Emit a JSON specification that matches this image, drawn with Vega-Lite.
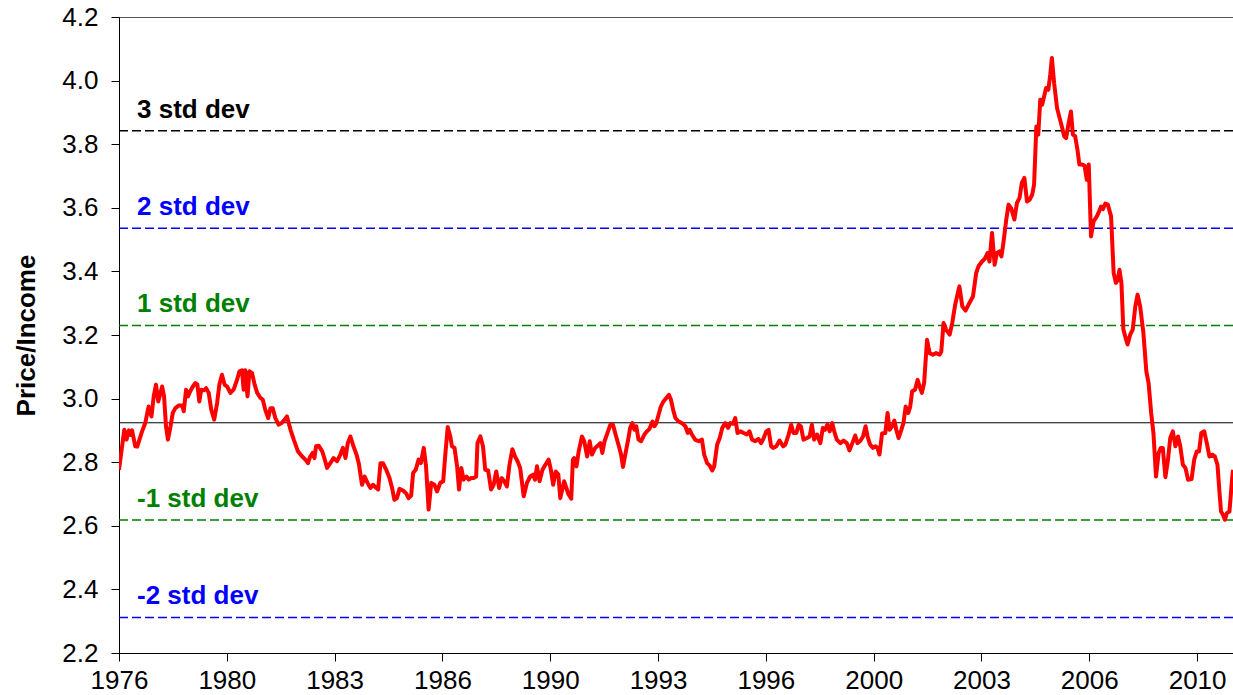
{
  "$schema": "https://vega.github.io/schema/vega-lite/v6.json",
  "width": 1114,
  "height": 636,
  "autosize": {"type": "none"},
  "padding": {"left": 119, "top": 17, "right": 0, "bottom": 42},
  "background": "white",
  "config": {
    "view": {"stroke": "#555555", "strokeWidth": 1},
    "font": "Liberation Sans",
    "axis": {
      "labelFont": "Liberation Sans", "labelFontSize": 26, "labelColor": "#000000",
      "domainColor": "#000000", "domainWidth": 1, "tickColor": "#000000", "tickSize": 8, "tickWidth": 1,
      "grid": false, "labelFlush": false, "labelBound": false, "labelOverlap": false,
      "titleFont": "Liberation Sans", "titleFontSize": 26, "titleFontWeight": "bold", "titleColor": "#000000"
    }
  },
  "datasets": {
    "levels": [
      {"level": "3 std dev", "group": "3", "value": 3.842},
      {"level": "2 std dev", "group": "2", "value": 3.536},
      {"level": "1 std dev", "group": "1", "value": 3.230},
      {"level": "mean", "group": "0", "value": 2.924},
      {"level": "-1 std dev", "group": "1", "value": 2.618},
      {"level": "-2 std dev", "group": "2", "value": 2.312}
    ],
    "series": [
      {"year": 1976.667, "ratio": 2.776}, {"year": 1976.83, "ratio": 2.902}, {"year": 1976.90, "ratio": 2.871}, {"year": 1976.97, "ratio": 2.900},
      {"year": 1977.02, "ratio": 2.886}, {"year": 1977.07, "ratio": 2.900}, {"year": 1977.17, "ratio": 2.850}, {"year": 1977.23, "ratio": 2.849},
      {"year": 1977.38, "ratio": 2.897}, {"year": 1977.48, "ratio": 2.924}, {"year": 1977.58, "ratio": 2.975}, {"year": 1977.67, "ratio": 2.944},
      {"year": 1977.74, "ratio": 3.007}, {"year": 1977.81, "ratio": 3.044}, {"year": 1977.88, "ratio": 2.991}, {"year": 1977.95, "ratio": 3.018},
      {"year": 1978.00, "ratio": 3.038}, {"year": 1978.06, "ratio": 3.007}, {"year": 1978.12, "ratio": 2.913}, {"year": 1978.18, "ratio": 2.871},
      {"year": 1978.26, "ratio": 2.913}, {"year": 1978.33, "ratio": 2.955}, {"year": 1978.41, "ratio": 2.970}, {"year": 1978.51, "ratio": 2.978},
      {"year": 1978.62, "ratio": 2.978}, {"year": 1978.67, "ratio": 2.960}, {"year": 1978.74, "ratio": 3.028}, {"year": 1978.80, "ratio": 3.007},
      {"year": 1978.87, "ratio": 3.023}, {"year": 1978.95, "ratio": 3.038}, {"year": 1979.03, "ratio": 3.049}, {"year": 1979.09, "ratio": 3.044},
      {"year": 1979.15, "ratio": 2.991}, {"year": 1979.21, "ratio": 3.028}, {"year": 1979.29, "ratio": 3.026}, {"year": 1979.36, "ratio": 3.033},
      {"year": 1979.44, "ratio": 3.018}, {"year": 1979.52, "ratio": 2.965}, {"year": 1979.61, "ratio": 2.934}, {"year": 1979.70, "ratio": 2.986},
      {"year": 1979.77, "ratio": 3.044}, {"year": 1979.85, "ratio": 3.075}, {"year": 1979.93, "ratio": 3.044}, {"year": 1980.01, "ratio": 3.038},
      {"year": 1980.11, "ratio": 3.018}, {"year": 1980.21, "ratio": 3.028}, {"year": 1980.32, "ratio": 3.060}, {"year": 1980.39, "ratio": 3.086},
      {"year": 1980.47, "ratio": 3.089}, {"year": 1980.52, "ratio": 3.028}, {"year": 1980.57, "ratio": 3.089}, {"year": 1980.64, "ratio": 3.007},
      {"year": 1980.70, "ratio": 3.086}, {"year": 1980.78, "ratio": 3.080}, {"year": 1980.86, "ratio": 3.044}, {"year": 1980.94, "ratio": 3.018},
      {"year": 1981.04, "ratio": 3.002}, {"year": 1981.11, "ratio": 2.997}, {"year": 1981.19, "ratio": 2.965}, {"year": 1981.28, "ratio": 2.939},
      {"year": 1981.35, "ratio": 2.970}, {"year": 1981.42, "ratio": 2.970}, {"year": 1981.50, "ratio": 2.939}, {"year": 1981.60, "ratio": 2.918},
      {"year": 1981.69, "ratio": 2.923}, {"year": 1981.79, "ratio": 2.934}, {"year": 1981.86, "ratio": 2.944}, {"year": 1981.97, "ratio": 2.902},
      {"year": 1982.07, "ratio": 2.871}, {"year": 1982.20, "ratio": 2.834}, {"year": 1982.33, "ratio": 2.818}, {"year": 1982.43, "ratio": 2.808},
      {"year": 1982.51, "ratio": 2.797}, {"year": 1982.58, "ratio": 2.818}, {"year": 1982.65, "ratio": 2.829}, {"year": 1982.71, "ratio": 2.813},
      {"year": 1982.76, "ratio": 2.850}, {"year": 1982.84, "ratio": 2.852}, {"year": 1982.95, "ratio": 2.834}, {"year": 1983.03, "ratio": 2.808},
      {"year": 1983.10, "ratio": 2.782}, {"year": 1983.20, "ratio": 2.797}, {"year": 1983.30, "ratio": 2.813}, {"year": 1983.41, "ratio": 2.803},
      {"year": 1983.51, "ratio": 2.824}, {"year": 1983.59, "ratio": 2.845}, {"year": 1983.67, "ratio": 2.813}, {"year": 1983.74, "ratio": 2.860},
      {"year": 1983.82, "ratio": 2.881}, {"year": 1983.90, "ratio": 2.855}, {"year": 1984.01, "ratio": 2.824}, {"year": 1984.08, "ratio": 2.797},
      {"year": 1984.18, "ratio": 2.729}, {"year": 1984.26, "ratio": 2.755}, {"year": 1984.35, "ratio": 2.735}, {"year": 1984.44, "ratio": 2.719},
      {"year": 1984.52, "ratio": 2.729}, {"year": 1984.59, "ratio": 2.722}, {"year": 1984.68, "ratio": 2.714}, {"year": 1984.75, "ratio": 2.797},
      {"year": 1984.83, "ratio": 2.797}, {"year": 1984.93, "ratio": 2.776}, {"year": 1985.03, "ratio": 2.750}, {"year": 1985.11, "ratio": 2.719},
      {"year": 1985.18, "ratio": 2.682}, {"year": 1985.26, "ratio": 2.687}, {"year": 1985.34, "ratio": 2.716}, {"year": 1985.45, "ratio": 2.711},
      {"year": 1985.55, "ratio": 2.701}, {"year": 1985.62, "ratio": 2.687}, {"year": 1985.70, "ratio": 2.695}, {"year": 1985.76, "ratio": 2.766},
      {"year": 1985.84, "ratio": 2.776}, {"year": 1985.93, "ratio": 2.808}, {"year": 1986.00, "ratio": 2.797}, {"year": 1986.09, "ratio": 2.845},
      {"year": 1986.16, "ratio": 2.787}, {"year": 1986.24, "ratio": 2.651}, {"year": 1986.32, "ratio": 2.735}, {"year": 1986.42, "ratio": 2.729},
      {"year": 1986.50, "ratio": 2.708}, {"year": 1986.60, "ratio": 2.735}, {"year": 1986.69, "ratio": 2.740}, {"year": 1986.76, "ratio": 2.829},
      {"year": 1986.83, "ratio": 2.911}, {"year": 1986.91, "ratio": 2.881}, {"year": 1986.96, "ratio": 2.850}, {"year": 1987.04, "ratio": 2.845},
      {"year": 1987.12, "ratio": 2.787}, {"year": 1987.18, "ratio": 2.714}, {"year": 1987.25, "ratio": 2.782}, {"year": 1987.32, "ratio": 2.745},
      {"year": 1987.41, "ratio": 2.755}, {"year": 1987.48, "ratio": 2.745}, {"year": 1987.55, "ratio": 2.750}, {"year": 1987.63, "ratio": 2.750},
      {"year": 1987.71, "ratio": 2.755}, {"year": 1987.75, "ratio": 2.860}, {"year": 1987.84, "ratio": 2.881}, {"year": 1987.92, "ratio": 2.850},
      {"year": 1987.99, "ratio": 2.776}, {"year": 1988.08, "ratio": 2.774}, {"year": 1988.17, "ratio": 2.714}, {"year": 1988.25, "ratio": 2.729},
      {"year": 1988.33, "ratio": 2.771}, {"year": 1988.42, "ratio": 2.719}, {"year": 1988.50, "ratio": 2.750}, {"year": 1988.58, "ratio": 2.740},
      {"year": 1988.66, "ratio": 2.724}, {"year": 1988.74, "ratio": 2.792}, {"year": 1988.83, "ratio": 2.841}, {"year": 1988.91, "ratio": 2.818},
      {"year": 1988.99, "ratio": 2.803}, {"year": 1989.07, "ratio": 2.782}, {"year": 1989.18, "ratio": 2.693}, {"year": 1989.28, "ratio": 2.735},
      {"year": 1989.38, "ratio": 2.755}, {"year": 1989.47, "ratio": 2.761}, {"year": 1989.53, "ratio": 2.745}, {"year": 1989.59, "ratio": 2.787},
      {"year": 1989.67, "ratio": 2.740}, {"year": 1989.76, "ratio": 2.776}, {"year": 1989.85, "ratio": 2.792}, {"year": 1989.95, "ratio": 2.808},
      {"year": 1990.02, "ratio": 2.776}, {"year": 1990.09, "ratio": 2.729}, {"year": 1990.17, "ratio": 2.771}, {"year": 1990.25, "ratio": 2.761},
      {"year": 1990.31, "ratio": 2.687}, {"year": 1990.43, "ratio": 2.740}, {"year": 1990.56, "ratio": 2.700}, {"year": 1990.65, "ratio": 2.685},
      {"year": 1990.70, "ratio": 2.808}, {"year": 1990.74, "ratio": 2.813}, {"year": 1990.81, "ratio": 2.787}, {"year": 1990.88, "ratio": 2.834},
      {"year": 1990.98, "ratio": 2.881}, {"year": 1991.05, "ratio": 2.866}, {"year": 1991.14, "ratio": 2.818}, {"year": 1991.22, "ratio": 2.866},
      {"year": 1991.29, "ratio": 2.824}, {"year": 1991.39, "ratio": 2.845}, {"year": 1991.50, "ratio": 2.855}, {"year": 1991.55, "ratio": 2.860},
      {"year": 1991.61, "ratio": 2.829}, {"year": 1991.68, "ratio": 2.866}, {"year": 1991.77, "ratio": 2.892}, {"year": 1991.86, "ratio": 2.918},
      {"year": 1991.94, "ratio": 2.918}, {"year": 1992.02, "ratio": 2.887}, {"year": 1992.11, "ratio": 2.855}, {"year": 1992.19, "ratio": 2.824},
      {"year": 1992.25, "ratio": 2.785}, {"year": 1992.32, "ratio": 2.824}, {"year": 1992.40, "ratio": 2.866}, {"year": 1992.47, "ratio": 2.908},
      {"year": 1992.54, "ratio": 2.923}, {"year": 1992.60, "ratio": 2.902}, {"year": 1992.66, "ratio": 2.913}, {"year": 1992.73, "ratio": 2.871},
      {"year": 1992.81, "ratio": 2.866}, {"year": 1992.91, "ratio": 2.887}, {"year": 1992.99, "ratio": 2.897}, {"year": 1993.07, "ratio": 2.905},
      {"year": 1993.16, "ratio": 2.928}, {"year": 1993.22, "ratio": 2.913}, {"year": 1993.28, "ratio": 2.923}, {"year": 1993.35, "ratio": 2.949},
      {"year": 1993.42, "ratio": 2.975}, {"year": 1993.50, "ratio": 2.991}, {"year": 1993.59, "ratio": 3.002}, {"year": 1993.67, "ratio": 3.012},
      {"year": 1993.73, "ratio": 2.997}, {"year": 1993.80, "ratio": 2.965}, {"year": 1993.87, "ratio": 2.939}, {"year": 1993.97, "ratio": 2.928},
      {"year": 1994.07, "ratio": 2.923}, {"year": 1994.18, "ratio": 2.913}, {"year": 1994.25, "ratio": 2.892}, {"year": 1994.31, "ratio": 2.902},
      {"year": 1994.38, "ratio": 2.887}, {"year": 1994.48, "ratio": 2.871}, {"year": 1994.59, "ratio": 2.866}, {"year": 1994.69, "ratio": 2.871},
      {"year": 1994.76, "ratio": 2.824}, {"year": 1994.85, "ratio": 2.797}, {"year": 1994.93, "ratio": 2.789}, {"year": 1995.01, "ratio": 2.774},
      {"year": 1995.07, "ratio": 2.787}, {"year": 1995.16, "ratio": 2.855}, {"year": 1995.24, "ratio": 2.876}, {"year": 1995.32, "ratio": 2.908},
      {"year": 1995.41, "ratio": 2.923}, {"year": 1995.50, "ratio": 2.908}, {"year": 1995.57, "ratio": 2.923}, {"year": 1995.65, "ratio": 2.921},
      {"year": 1995.72, "ratio": 2.939}, {"year": 1995.79, "ratio": 2.892}, {"year": 1995.88, "ratio": 2.897}, {"year": 1995.98, "ratio": 2.892},
      {"year": 1996.08, "ratio": 2.887}, {"year": 1996.16, "ratio": 2.897}, {"year": 1996.24, "ratio": 2.871}, {"year": 1996.34, "ratio": 2.866},
      {"year": 1996.44, "ratio": 2.873}, {"year": 1996.52, "ratio": 2.860}, {"year": 1996.60, "ratio": 2.876}, {"year": 1996.68, "ratio": 2.897},
      {"year": 1996.75, "ratio": 2.902}, {"year": 1996.83, "ratio": 2.850}, {"year": 1996.89, "ratio": 2.845}, {"year": 1996.99, "ratio": 2.850},
      {"year": 1997.09, "ratio": 2.868}, {"year": 1997.20, "ratio": 2.850}, {"year": 1997.27, "ratio": 2.855}, {"year": 1997.37, "ratio": 2.887},
      {"year": 1997.45, "ratio": 2.918}, {"year": 1997.52, "ratio": 2.892}, {"year": 1997.61, "ratio": 2.892}, {"year": 1997.68, "ratio": 2.918},
      {"year": 1997.75, "ratio": 2.913}, {"year": 1997.83, "ratio": 2.871}, {"year": 1997.94, "ratio": 2.876}, {"year": 1998.02, "ratio": 2.881},
      {"year": 1998.09, "ratio": 2.918}, {"year": 1998.16, "ratio": 2.871}, {"year": 1998.25, "ratio": 2.887}, {"year": 1998.35, "ratio": 2.860},
      {"year": 1998.43, "ratio": 2.908}, {"year": 1998.50, "ratio": 2.902}, {"year": 1998.57, "ratio": 2.918}, {"year": 1998.64, "ratio": 2.897},
      {"year": 1998.72, "ratio": 2.923}, {"year": 1998.78, "ratio": 2.897}, {"year": 1998.86, "ratio": 2.871}, {"year": 1998.97, "ratio": 2.860},
      {"year": 1999.07, "ratio": 2.868}, {"year": 1999.17, "ratio": 2.860}, {"year": 1999.25, "ratio": 2.837}, {"year": 1999.34, "ratio": 2.860},
      {"year": 1999.43, "ratio": 2.884}, {"year": 1999.50, "ratio": 2.860}, {"year": 1999.58, "ratio": 2.866}, {"year": 1999.67, "ratio": 2.881},
      {"year": 1999.75, "ratio": 2.913}, {"year": 1999.81, "ratio": 2.881}, {"year": 1999.89, "ratio": 2.855}, {"year": 1999.98, "ratio": 2.845},
      {"year": 2000.06, "ratio": 2.850}, {"year": 2000.12, "ratio": 2.845}, {"year": 2000.18, "ratio": 2.824}, {"year": 2000.26, "ratio": 2.890},
      {"year": 2000.36, "ratio": 2.892}, {"year": 2000.43, "ratio": 2.955}, {"year": 2000.49, "ratio": 2.902}, {"year": 2000.57, "ratio": 2.913},
      {"year": 2000.64, "ratio": 2.931}, {"year": 2000.70, "ratio": 2.902}, {"year": 2000.77, "ratio": 2.876}, {"year": 2000.85, "ratio": 2.900},
      {"year": 2000.92, "ratio": 2.923}, {"year": 2000.99, "ratio": 2.975}, {"year": 2001.07, "ratio": 2.955}, {"year": 2001.13, "ratio": 2.975},
      {"year": 2001.19, "ratio": 3.023}, {"year": 2001.28, "ratio": 3.028}, {"year": 2001.36, "ratio": 3.059}, {"year": 2001.42, "ratio": 3.038},
      {"year": 2001.49, "ratio": 3.018}, {"year": 2001.56, "ratio": 3.049}, {"year": 2001.65, "ratio": 3.185}, {"year": 2001.73, "ratio": 3.143},
      {"year": 2001.83, "ratio": 3.138}, {"year": 2001.93, "ratio": 3.143}, {"year": 2002.04, "ratio": 3.138}, {"year": 2002.09, "ratio": 3.148},
      {"year": 2002.16, "ratio": 3.238}, {"year": 2002.24, "ratio": 3.217}, {"year": 2002.35, "ratio": 3.201}, {"year": 2002.43, "ratio": 3.238},
      {"year": 2002.52, "ratio": 3.295}, {"year": 2002.59, "ratio": 3.327}, {"year": 2002.65, "ratio": 3.353}, {"year": 2002.74, "ratio": 3.290},
      {"year": 2002.84, "ratio": 3.277}, {"year": 2002.93, "ratio": 3.295}, {"year": 2003.07, "ratio": 3.321}, {"year": 2003.17, "ratio": 3.395},
      {"year": 2003.24, "ratio": 3.416}, {"year": 2003.35, "ratio": 3.431}, {"year": 2003.45, "ratio": 3.442}, {"year": 2003.52, "ratio": 3.458},
      {"year": 2003.58, "ratio": 3.431}, {"year": 2003.66, "ratio": 3.521}, {"year": 2003.74, "ratio": 3.421}, {"year": 2003.81, "ratio": 3.458},
      {"year": 2003.89, "ratio": 3.463}, {"year": 2003.95, "ratio": 3.447}, {"year": 2004.01, "ratio": 3.489}, {"year": 2004.10, "ratio": 3.563},
      {"year": 2004.17, "ratio": 3.610}, {"year": 2004.25, "ratio": 3.599}, {"year": 2004.35, "ratio": 3.563}, {"year": 2004.43, "ratio": 3.615},
      {"year": 2004.51, "ratio": 3.631}, {"year": 2004.58, "ratio": 3.678}, {"year": 2004.66, "ratio": 3.694}, {"year": 2004.74, "ratio": 3.620},
      {"year": 2004.82, "ratio": 3.625}, {"year": 2004.90, "ratio": 3.641}, {"year": 2004.96, "ratio": 3.673}, {"year": 2005.03, "ratio": 3.856},
      {"year": 2005.09, "ratio": 3.830}, {"year": 2005.15, "ratio": 3.940}, {"year": 2005.21, "ratio": 3.924}, {"year": 2005.27, "ratio": 3.950},
      {"year": 2005.33, "ratio": 3.977}, {"year": 2005.40, "ratio": 3.971}, {"year": 2005.46, "ratio": 4.019}, {"year": 2005.51, "ratio": 4.071},
      {"year": 2005.58, "ratio": 3.992}, {"year": 2005.67, "ratio": 3.914}, {"year": 2005.75, "ratio": 3.882}, {"year": 2005.83, "ratio": 3.851},
      {"year": 2005.89, "ratio": 3.825}, {"year": 2005.95, "ratio": 3.819}, {"year": 2006.01, "ratio": 3.856}, {"year": 2006.10, "ratio": 3.903},
      {"year": 2006.16, "ratio": 3.830}, {"year": 2006.23, "ratio": 3.825}, {"year": 2006.30, "ratio": 3.783}, {"year": 2006.36, "ratio": 3.736},
      {"year": 2006.45, "ratio": 3.736}, {"year": 2006.52, "ratio": 3.732}, {"year": 2006.59, "ratio": 3.688}, {"year": 2006.65, "ratio": 3.736},
      {"year": 2006.72, "ratio": 3.510}, {"year": 2006.80, "ratio": 3.557}, {"year": 2006.90, "ratio": 3.573}, {"year": 2006.95, "ratio": 3.584},
      {"year": 2007.03, "ratio": 3.604}, {"year": 2007.09, "ratio": 3.596}, {"year": 2007.16, "ratio": 3.613}, {"year": 2007.24, "ratio": 3.610},
      {"year": 2007.34, "ratio": 3.573}, {"year": 2007.42, "ratio": 3.395}, {"year": 2007.49, "ratio": 3.364}, {"year": 2007.55, "ratio": 3.374},
      {"year": 2007.60, "ratio": 3.405}, {"year": 2007.66, "ratio": 3.364}, {"year": 2007.72, "ratio": 3.217}, {"year": 2007.79, "ratio": 3.191},
      {"year": 2007.85, "ratio": 3.170}, {"year": 2007.93, "ratio": 3.201}, {"year": 2008.01, "ratio": 3.217}, {"year": 2008.09, "ratio": 3.290},
      {"year": 2008.16, "ratio": 3.327}, {"year": 2008.24, "ratio": 3.290}, {"year": 2008.34, "ratio": 3.206}, {"year": 2008.43, "ratio": 3.086},
      {"year": 2008.50, "ratio": 3.049}, {"year": 2008.58, "ratio": 2.955}, {"year": 2008.65, "ratio": 2.892}, {"year": 2008.73, "ratio": 2.755},
      {"year": 2008.81, "ratio": 2.829}, {"year": 2008.88, "ratio": 2.845}, {"year": 2008.94, "ratio": 2.845}, {"year": 2009.02, "ratio": 2.753},
      {"year": 2009.10, "ratio": 2.808}, {"year": 2009.17, "ratio": 2.876}, {"year": 2009.25, "ratio": 2.897}, {"year": 2009.33, "ratio": 2.850},
      {"year": 2009.41, "ratio": 2.881}, {"year": 2009.48, "ratio": 2.850}, {"year": 2009.56, "ratio": 2.792}, {"year": 2009.64, "ratio": 2.782},
      {"year": 2009.72, "ratio": 2.745}, {"year": 2009.83, "ratio": 2.747}, {"year": 2009.91, "ratio": 2.808}, {"year": 2009.99, "ratio": 2.834},
      {"year": 2010.06, "ratio": 2.834}, {"year": 2010.13, "ratio": 2.892}, {"year": 2010.22, "ratio": 2.897}, {"year": 2010.30, "ratio": 2.860},
      {"year": 2010.38, "ratio": 2.818}, {"year": 2010.47, "ratio": 2.824}, {"year": 2010.55, "ratio": 2.818}, {"year": 2010.63, "ratio": 2.792},
      {"year": 2010.69, "ratio": 2.708}, {"year": 2010.74, "ratio": 2.645}, {"year": 2010.80, "ratio": 2.635}, {"year": 2010.86, "ratio": 2.619},
      {"year": 2010.92, "ratio": 2.640}, {"year": 2011.00, "ratio": 2.645}, {"year": 2011.08, "ratio": 2.745}, {"year": 2011.11, "ratio": 2.776}
    ]
  },
  "layer": [
    {
      "data": {"name": "levels"},
      "transform": [{"filter": "datum.group == '0'"}],
      "mark": {"type": "rule", "strokeWidth": 1, "color": "#000000"},
      "encoding": {
        "y": {"field": "value", "type": "quantitative", "title": "Price/Income"}
      }
    },
    {
      "data": {"name": "levels"},
      "transform": [{"filter": "datum.group == '3'"}],
      "mark": {"type": "rule", "strokeWidth": 1.5, "strokeDash": [9, 4], "color": "#000000"},
      "encoding": {
        "y": {"field": "value", "type": "quantitative", "title": "Price/Income"}
      }
    },
    {
      "data": {"name": "levels"},
      "transform": [{"filter": "datum.group == '2'"}],
      "mark": {"type": "rule", "strokeWidth": 1.5, "strokeDash": [9, 4], "color": "#0000FF"},
      "encoding": {
        "y": {"field": "value", "type": "quantitative", "title": "Price/Income"}
      }
    },
    {
      "data": {"name": "levels"},
      "transform": [{"filter": "datum.group == '1'"}],
      "mark": {"type": "rule", "strokeWidth": 1.5, "strokeDash": [9, 4], "color": "#008000"},
      "encoding": {
        "y": {"field": "value", "type": "quantitative", "title": "Price/Income"}
      }
    },
    {
      "data": {"name": "levels"},
      "transform": [{"filter": "datum.group == '3'"}],
      "mark": {"type": "text", "align": "left", "baseline": "alphabetic", "dx": 18, "dy": -13,
               "fontSize": 26, "fontWeight": "bold", "font": "Liberation Sans", "color": "#000000"},
      "encoding": {
        "x": {"datum": 1976.6667, "type": "quantitative", "title": null},
        "y": {"field": "value", "type": "quantitative", "title": "Price/Income"},
        "text": {"field": "level"}
      }
    },
    {
      "data": {"name": "levels"},
      "transform": [{"filter": "datum.group == '2'"}],
      "mark": {"type": "text", "align": "left", "baseline": "alphabetic", "dx": 18, "dy": -13,
               "fontSize": 26, "fontWeight": "bold", "font": "Liberation Sans", "color": "#0000FF"},
      "encoding": {
        "x": {"datum": 1976.6667, "type": "quantitative", "title": null},
        "y": {"field": "value", "type": "quantitative", "title": "Price/Income"},
        "text": {"field": "level"}
      }
    },
    {
      "data": {"name": "levels"},
      "transform": [{"filter": "datum.group == '1'"}],
      "mark": {"type": "text", "align": "left", "baseline": "alphabetic", "dx": 18, "dy": -13,
               "fontSize": 26, "fontWeight": "bold", "font": "Liberation Sans", "color": "#008000"},
      "encoding": {
        "x": {"datum": 1976.6667, "type": "quantitative", "title": null},
        "y": {"field": "value", "type": "quantitative", "title": "Price/Income"},
        "text": {"field": "level"}
      }
    },
    {
      "data": {"name": "series"},
      "mark": {"type": "line", "color": "#FF0000", "strokeWidth": 4, "strokeJoin": "round", "clip": true},
      "encoding": {
        "x": {"field": "year", "type": "quantitative", "title": null,
          "scale": {"domain": [1976.6667, 2011.11], "nice": false, "zero": false},
          "axis": {"values": [1976.6667, 1980.0001, 1983.3333, 1986.6667, 1990.0001, 1993.3333, 1996.6667, 2000.0001, 2003.3333, 2006.6667, 2010.0001],
                   "labelExpr": "'' + floor(datum.value)", "labelPadding": 6}},
        "y": {"field": "ratio", "type": "quantitative", "title": "Price/Income",
          "scale": {"domain": [2.2, 4.2], "nice": false, "zero": false},
          "axis": {"values": [2.2, 2.4, 2.6, 2.8, 3.0, 3.2, 3.4, 3.6, 3.8, 4.0, 4.2], "format": ".1f",
                   "labelPadding": 13, "titlePadding": 22}}
      }
    }
  ]
}
